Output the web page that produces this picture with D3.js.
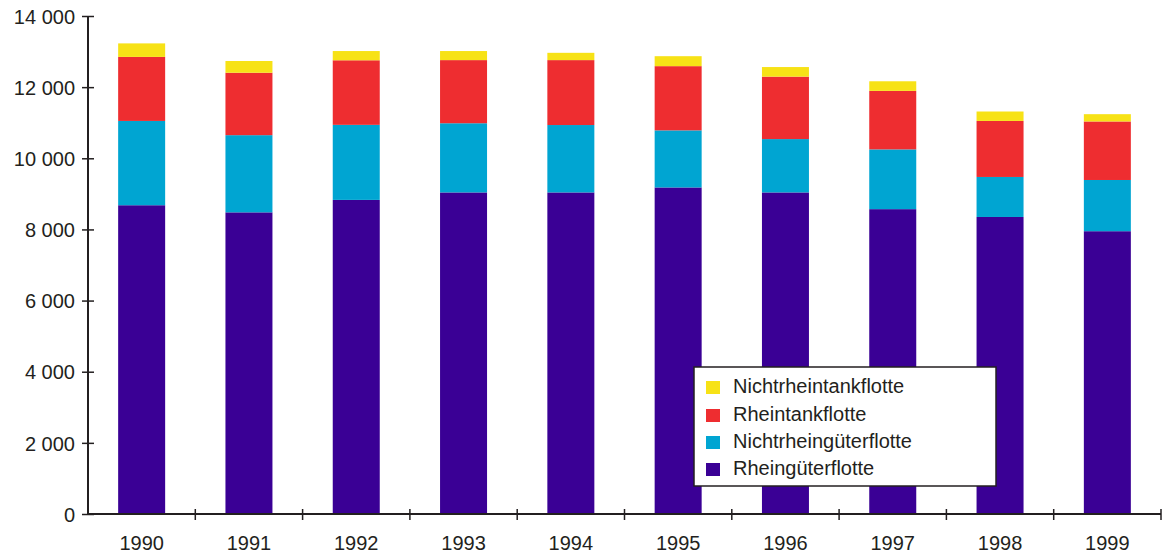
<!DOCTYPE html>
<html>
<head>
<meta charset="utf-8">
<script src="https://cdn.jsdelivr.net/npm/d3@7"></script>
<style>
    body { margin: 0; background: #fff; }
    svg text { font-family: "Liberation Sans", Arial, sans-serif; fill: #231f20; }
</style>
</head>
<body>
<div class="chart-content"></div>
<script>
// data
let years = ['1990', '1991', '1992', '1993', '1994', '1995', '1996', '1997', '1998', '1999'];
let rheinGueter = [8680, 8480, 8830, 9040, 9040, 9180, 9040, 8570, 8350, 7950];
let nichtrheinGueter = [2370, 2170, 2110, 1945, 1895, 1605, 1500, 1680, 1125, 1440];
let rheinTank = [1800, 1755, 1815, 1775, 1825, 1805, 1755, 1645, 1575, 1645];
let nichtrheinTank = [380, 330, 260, 255, 205, 280, 270, 270, 265, 205];
let seriesNames = ['Rheingüterflotte', 'Nichtrheingüterflotte', 'Rheintankflotte', 'Nichtrheintankflotte'];
let yTicks = [0, 2000, 4000, 6000, 8000, 10000, 12000, 14000];

let colors = {
    'Rheingüterflotte': '#3a0095',
    'Nichtrheingüterflotte': '#00a5d2',
    'Rheintankflotte': '#ee2d30',
    'Nichtrheintankflotte': '#f7e216'
};

let w = 1162;
let h = 555;
let pLeft = 88, pRight = 1161, pTop = 16, pBottom = 514;
let ink = '#231f20';

let table = years.map(function(y, i) {
    return {
        year: y,
        'Rheingüterflotte': rheinGueter[i],
        'Nichtrheingüterflotte': nichtrheinGueter[i],
        'Rheintankflotte': rheinTank[i],
        'Nichtrheintankflotte': nichtrheinTank[i]
    };
});
let stacked = d3.stack().keys(seriesNames)(table);

let svg = d3.select('.chart-content')
    .append('svg')
    .attr('width', w)
    .attr('height', h);

let pad = 0.562;
let x = d3.scaleBand().domain(years).range([pLeft, pRight]).paddingInner(pad).paddingOuter(pad / 2);
let y = d3.scaleLinear().domain([0, 14000]).range([pBottom, pTop]);
let xb = d3.scaleLinear().domain([0, years.length]).range([pLeft, pRight]);

// bars
svg.selectAll('.layer')
    .data(stacked)
    .enter()
    .append('g')
    .attr('fill', function(d) {return colors[d.key]})
    .selectAll('rect')
    .data(function(d) {return d})
    .enter()
    .append('rect')
    .attr('x', function(d) {return x(d.data.year)})
    .attr('width', x.bandwidth())
    .attr('y', function(d) {return y(d[1])})
    .attr('height', function(d) {return y(d[0]) - y(d[1])});

// y axis
let loc = d3.formatLocale({decimal: ',', thousands: '\u00a0', grouping: [3], currency: ['', '']});
let yAxis = d3.axisLeft(y).tickValues(yTicks).tickFormat(loc.format(',')).tickSize(6).tickPadding(8);
let gy = svg.append('g').attr('transform', 'translate(' + pLeft + ',0)').call(yAxis);
gy.select('.domain').remove();
gy.selectAll('.tick line').attr('x1', 6).attr('x2', -6).attr('stroke', ink).attr('stroke-width', 1.5);
gy.selectAll('.tick text').attr('font-size', 20).attr('x', -13).attr('dy', '0.36em')
    .style('font-family', '"Liberation Sans", Arial, sans-serif').attr('fill', ink);
gy.append('line').attr('x1', 0).attr('x2', 0).attr('y1', pTop).attr('y2', pBottom)
    .attr('stroke', ink).attr('stroke-width', 2);

// x axis: ticks on the band edges, labels at centres
let gx = svg.append('g').attr('transform', 'translate(0,' + pBottom + ')');
gx.append('line').attr('x1', pLeft).attr('x2', pRight).attr('y1', 0).attr('y2', 0)
    .attr('stroke', ink).attr('stroke-width', 2);
gx.selectAll('.xtick')
    .data(d3.range(1, years.length + 1))
    .enter()
    .append('line')
    .attr('x1', function(d) {return xb(d)})
    .attr('x2', function(d) {return xb(d)})
    .attr('y1', -5)
    .attr('y2', 6)
    .attr('stroke', ink)
    .attr('stroke-width', 1.5);
gx.selectAll('.xlabel')
    .data(years)
    .enter()
    .append('text')
    .attr('x', function(d) {return x(d) + x.bandwidth() / 2})
    .attr('y', 36)
    .attr('text-anchor', 'middle')
    .attr('font-size', 20)
    .text(function(d) {return d});

// legend
let lg = svg.append('g').attr('transform', 'translate(694,367)');
lg.append('rect').attr('width', 302).attr('height', 119)
    .attr('fill', '#fff').attr('stroke', ink).attr('stroke-width', 1.5);
let legendOrder = seriesNames.slice().reverse();
let rowY = [26, 54, 81, 108];
let item = lg.selectAll('.item')
    .data(legendOrder)
    .enter()
    .append('g')
    .attr('transform', function(d, i) {return 'translate(0,' + rowY[i] + ')'});
item.append('rect')
    .attr('x', 12).attr('y', -12).attr('width', 14).attr('height', 13)
    .attr('fill', function(d) {return colors[d]});
item.append('text')
    .attr('x', 39)
    .attr('y', 0)
    .attr('font-size', 20)
    .text(function(d) {return d});
</script>
</body>
</html>
